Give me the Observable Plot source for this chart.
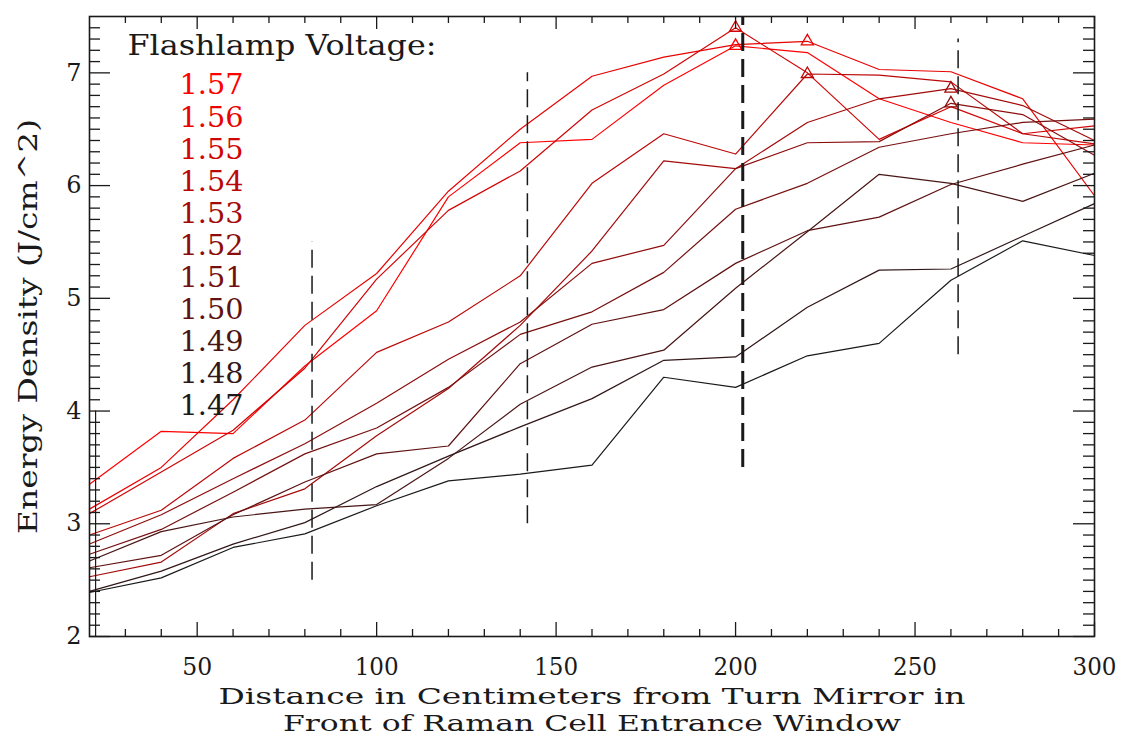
<!DOCTYPE html>
<html>
<head>
<meta charset="utf-8">
<script src="https://cdn.jsdelivr.net/npm/d3@7"></script>
<script src="https://cdn.jsdelivr.net/npm/@observablehq/plot@0.6"></script>
<style>
  html, body { margin: 0; padding: 0; background: #fff; }
  #chart svg { display: block; }
</style>
</head>
<body>
<div id="chart"></div>
<script>
// Distances (cm)
const distances = [20, 40, 60, 80, 100, 120, 140, 160, 180, 200, 220, 240, 260, 280, 300];

// Flashlamp voltages (legend order, top to bottom)
const voltages = ["1.57", "1.56", "1.55", "1.54", "1.53", "1.52", "1.51", "1.50", "1.49", "1.48", "1.47"];

// Energy density (J/cm^2) per voltage
const e157 = [3.35, 3.82, 3.80, 4.40, 4.89, 5.90, 6.38, 6.41, 6.89, 7.24, 7.18, 6.77, 6.56, 6.38, 6.36];
const e156 = [3.13, 3.50, 4.10, 4.76, 5.22, 5.95, 6.50, 6.97, 7.14, 7.25, 7.28, 7.03, 7.01, 6.77, 5.91];
const e155 = [3.09, 3.46, 3.83, 4.38, 5.17, 5.78, 6.13, 6.67, 6.99, 7.40, 7.00, 6.41, 6.70, 6.46, 6.53];
const e154 = [2.90, 3.12, 3.58, 3.92, 4.52, 4.79, 5.20, 6.02, 6.46, 6.28, 6.99, 6.98, 6.92, 6.46, 6.37];
const e153 = [2.53, 2.66, 3.09, 3.31, 3.78, 4.20, 4.76, 5.42, 6.22, 6.15, 6.56, 6.77, 6.86, 6.71, 6.40];
const e152 = [2.82, 3.08, 3.40, 3.71, 4.07, 4.46, 4.79, 5.31, 5.47, 6.15, 6.38, 6.39, 6.73, 6.63, 6.27];
const e151 = [2.73, 2.95, 3.28, 3.62, 3.85, 4.21, 4.68, 4.88, 5.23, 5.79, 6.02, 6.34, 6.46, 6.56, 6.59];
const e150 = [2.61, 2.72, 3.08, 3.37, 3.62, 3.69, 4.42, 4.77, 4.90, 5.31, 5.60, 5.72, 6.01, 6.19, 6.36];
const e149 = [2.67, 2.93, 3.06, 3.13, 3.17, 3.58, 4.06, 4.39, 4.54, 5.09, 5.59, 6.10, 6.02, 5.86, 6.11];
const e148 = [2.40, 2.58, 2.82, 3.01, 3.33, 3.60, 3.86, 4.11, 4.45, 4.48, 4.92, 5.25, 5.26, 5.55, 5.84];
const e147 = [2.39, 2.52, 2.79, 2.91, 3.16, 3.38, 3.44, 3.52, 4.30, 4.21, 4.49, 4.60, 5.16, 5.51, 5.38];

// Voltages whose peak is marked with a triangle
const peakMarked = ["1.57", "1.56", "1.55", "1.54", "1.53", "1.52"];

// Vertical dashed reference lines
const refX = [82, 142, 202, 262];
const refLow = [2.5, 3.0, 3.5, 4.5];
const refHigh = [5.5, 7.0, 7.5, 7.3];

// Short solid marker near the left axis
const markX = [21.7];
const markLow = [2.0];
const markHigh = [4.0];

// Axis ticks
const xMajor = [50, 100, 150, 200, 250, 300];
const xMinor = d3.range(30, 300, 10).filter(v => v % 50 !== 0);
const yMajor = [2, 3, 4, 5, 6, 7];
const yMinor = d3.range(21, 75).map(v => v / 10).filter(v => Math.abs(v - Math.round(v)) > 1e-9);

// Texts
const xTitle1 = "Distance in Centimeters from Turn Mirror in";
const xTitle2 = "Front of Raman Cell Entrance Window";
const yTitle = "Energy Density (J/cm^2)";
const legendTitle = "Flashlamp Voltage:";

const seriesValues = [e157, e156, e155, e154, e153, e152, e151, e150, e149, e148, e147];

const rows = voltages.flatMap((v, i) =>
  distances.map((d, j) => ({ voltage: v, distance: d, energy: seriesValues[i][j] })));

const peaks = voltages.map((v, i) => {
  const vals = seriesValues[i];
  const j = d3.maxIndex(vals);
  return { voltage: v, distance: distances[j], energy: vals[j] };
}).filter(p => peakMarked.includes(p.voltage));

const colorOf = v => d3.interpolateRgb("#1a1a1a", "#ff0000")((+v - 1.47) / 0.10);

const refs = refX.map((x, i) => ({ x, lo: refLow[i], hi: refHigh[i], i }));
const marks = markX.map((x, i) => ({ x, lo: markLow[i], hi: markHigh[i] }));

const W = 1126, H = 738, ML = 89, MR = 32, MT = 16, MB = 102;
const FW = W - ML - MR, FH = H - MT - MB;
const FONT = "DejaVu Serif";
const INK = "#1a1a1a";

const legendMarks = [
  Plot.text([legendTitle], {
    frameAnchor: "top-left", dx: 38, dy: 30, textAnchor: "start", lineAnchor: "middle",
    fontSize: 28, fill: INK
  }),
  ...voltages.map((v, i) => Plot.text([v], {
    frameAnchor: "top-left", dx: 90, dy: 69 + i * 32.1, textAnchor: "start", lineAnchor: "middle",
    fontSize: 28, fill: colorOf(v)
  }))
];

const chart = Plot.plot({
  width: W, height: H,
  marginLeft: ML, marginRight: MR, marginTop: MT, marginBottom: MB,
  style: { fontFamily: FONT, background: "#fff" },
  x: { domain: [20, 300] },
  y: { domain: [2, 7.5] },
  marks: [
    // data lines
    Plot.line(rows, { x: "distance", y: "energy", z: "voltage", stroke: d => colorOf(d.voltage), strokeWidth: 1.2 }),
    // peak triangles
    Plot.dot(peaks, { x: "distance", y: "energy", symbol: "triangle", r: 4.5, fill: "none", stroke: d => colorOf(d.voltage), strokeWidth: 1.3 }),
    // dashed reference lines
    Plot.ruleX(refs, { x: "x", y1: "lo", y2: "hi", stroke: INK, strokeWidth: d => d.i === 2 ? 3 : 1.5, strokeDasharray: "18,8" }),
    Plot.ruleX(marks, { x: "x", y1: "lo", y2: "hi", stroke: INK, strokeWidth: 1.2 }),
    // ticks (inward, on all four sides)
    Plot.tickX(xMajor, { x: d => d, insetTop: FH - 14, stroke: INK, strokeWidth: 1.3 }),
    Plot.tickX(xMinor, { x: d => d, insetTop: FH - 7, stroke: INK, strokeWidth: 1.3 }),
    Plot.tickX(xMajor, { x: d => d, insetBottom: FH - 13, stroke: INK, strokeWidth: 1.3 }),
    Plot.tickX(xMinor, { x: d => d, insetBottom: FH - 7, stroke: INK, strokeWidth: 1.3 }),
    Plot.tickY(yMajor, { y: d => d, insetRight: FW - 21, stroke: INK, strokeWidth: 1.3 }),
    Plot.tickY(yMinor, { y: d => d, insetRight: FW - 11, stroke: INK, strokeWidth: 1.3 }),
    Plot.tickY(yMajor, { y: d => d, insetLeft: FW - 21, stroke: INK, strokeWidth: 1.3 }),
    Plot.tickY(yMinor, { y: d => d, insetLeft: FW - 11, stroke: INK, strokeWidth: 1.3 }),
    Plot.frame({ stroke: INK, strokeWidth: 1.6 }),
    // tick labels
    Plot.axisX({ ticks: xMajor, tickSize: 0, tickPadding: 21, fontSize: 24, tickFormat: d => String(d), label: null, color: INK }),
    Plot.axisY({ ticks: yMajor, tickSize: 0, tickPadding: 8, fontSize: 24, tickFormat: d => String(d), label: null, color: INK }),
    // axis titles
    Plot.text([xTitle1], {
      frameAnchor: "bottom", dy: 60, lineAnchor: "middle", textAnchor: "middle", fontSize: 23, fill: INK
    }),
    Plot.text([xTitle2], {
      frameAnchor: "bottom", dy: 87, lineAnchor: "middle", textAnchor: "middle", fontSize: 23, fill: INK
    }),
    Plot.text([yTitle], {
      frameAnchor: "left", dx: -61, rotate: -90, textAnchor: "middle", lineAnchor: "middle", fontSize: 26, fill: INK
    }),
    ...legendMarks
  ]
});

// Stretch the lettering to the broad stroke font footprint of the original
const widths = new Map([
  [xTitle1, 747], [xTitle2, 618], [yTitle, 415], [legendTitle, 309],
  ...voltages.map(v => [v, 64]),
  ["100", 44], ["150", 44], ["200", 44], ["250", 44], ["300", 44], ["50", 30]
]);
d3.select(chart).selectAll("text").each(function () {
  const t = this.textContent;
  if (widths.has(t)) {
    this.setAttribute("textLength", widths.get(t));
    this.setAttribute("lengthAdjust", "spacingAndGlyphs");
  }
});

document.getElementById("chart").appendChild(chart);
</script>
</body>
</html>
